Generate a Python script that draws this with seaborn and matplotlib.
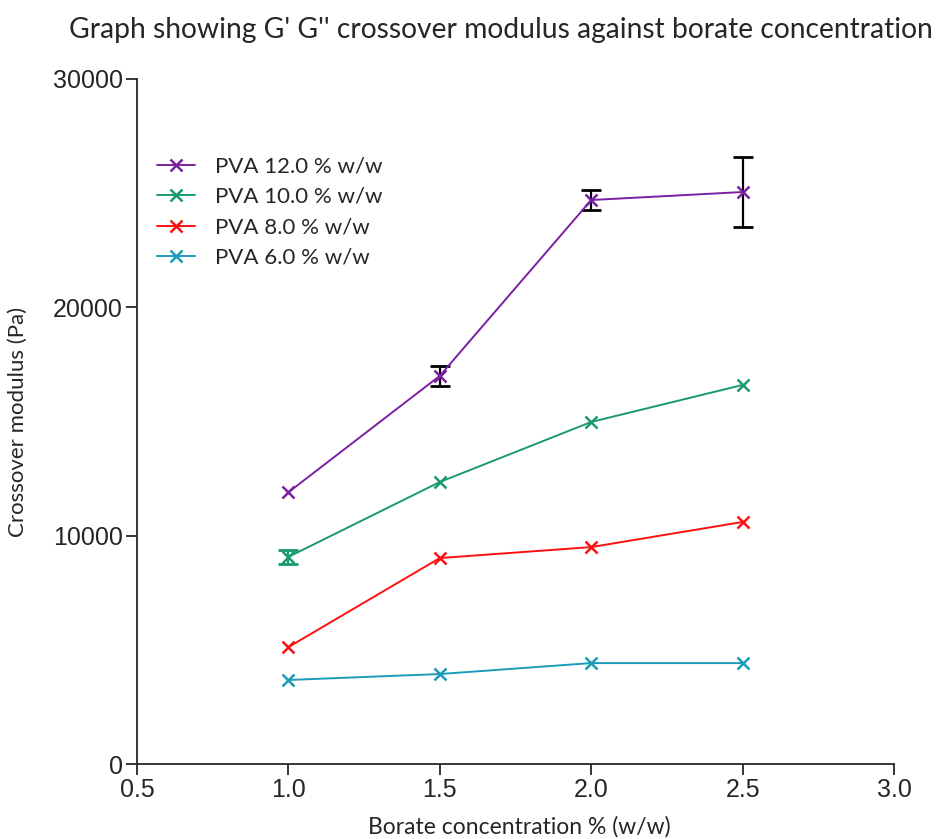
import matplotlib
matplotlib.use("Agg")
import matplotlib.pyplot as plt
import seaborn as sns
import pandas as pd
import numpy as np

borate = [1.0, 1.5, 2.0, 2.5]
series_names = ["PVA 12.0 % w/w", "PVA 10.0 % w/w", "PVA 8.0 % w/w", "PVA 6.0 % w/w"]
pva12 = [11900, 17000, 24700, 25050]
pva12_err = [0, 450, 440, 1520]
pva10 = [9070, 12350, 14980, 16600]
pva10_err = [300, 0, 0, 0]
pva8 = [5120, 9020, 9500, 10600]
pva6 = [3680, 3940, 4420, 4420]
colors = ["#7B1FA2", "#1A9A6A", "#FF1010", "#1A9BB8"]

values = [pva12, pva10, pva8, pva6]
rows = []
for name, vals in zip(series_names, values):
    for x, y in zip(borate, vals):
        rows.append({"Borate": x, "Modulus": y, "Series": name})
df = pd.DataFrame(rows)

sns.set_style("ticks")
plt.rcParams['font.family'] = ['Liberation Sans', 'DejaVu Sans']

fig = plt.figure(figsize=(9.41, 8.39), dpi=100)
ax = fig.add_axes([137/941, 1-764/839, (894-137)/941, (764-79)/839])

sns.lineplot(data=df, x="Borate", y="Modulus", hue="Series", hue_order=series_names,
             palette=colors, marker="x", markersize=8, markeredgewidth=1.8,
             linewidth=1.4, ax=ax, legend=True)
for ln in ax.lines:
    ln.set_markeredgecolor(ln.get_color())

# error bars
ax.errorbar(borate[1:], pva12[1:], yerr=pva12_err[1:], fmt="none", ecolor="black",
            elinewidth=1.6, capsize=7, capthick=2, zorder=1)
ax.errorbar(borate[:1], pva10[:1], yerr=pva10_err[:1], fmt="none", ecolor=colors[1],
            elinewidth=1.6, capsize=7, capthick=2, zorder=1)

ax.set_xlim(0.5, 3.0)
ax.set_ylim(0, 30000)
ax.set_xticks([0.5, 1.0, 1.5, 2.0, 2.5, 3.0])
ax.set_xticklabels(["0.5", "1.0", "1.5", "2.0", "2.5", "3.0"])
ax.set_yticks([0, 10000, 20000, 30000])
ax.set_yticklabels(["0", "10000", "20000", "30000"])
ax.tick_params(axis="both", labelsize=18, length=8, width=1.3, direction="out", pad=2)
for s in ["left", "bottom"]:
    ax.spines[s].set_linewidth(1.3)
sns.despine(ax=ax)

lab_font = ['Lato', 'DejaVu Sans']
ax.set_xlabel("Borate concentration % (w/w)", fontsize=16.5, family=lab_font, va="center")
ax.xaxis.set_label_coords((519-137)/(894-137), -(827-764)/(764-79))
ax.set_ylabel("Crossover modulus (Pa)", fontsize=16, family=lab_font, va="center")
ax.yaxis.set_label_coords(-(137-18)/(894-137), 0.5)

fig.text(501/941, 1-30/839, "Graph showing G' G'' crossover modulus against borate concentration",
         ha="center", va="center", fontsize=20.3, family=lab_font)

leg = ax.legend(loc="upper left", bbox_to_anchor=(0.0, 0.916), frameon=False,
                handlelength=1.7, labelspacing=0.47, handletextpad=0.9,
                prop={'family': lab_font, 'size': 16})
for h in leg.legend_handles:
    h.set_markersize(8)
    h.set_markeredgecolor(h.get_color())

fig.savefig("out.png", dpi=100)
